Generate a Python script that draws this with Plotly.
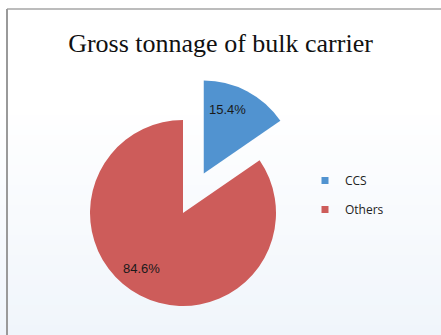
import math
import plotly.graph_objects as go

# Gross tonnage share of bulk carriers
labels = ["CCS", "Others"]
shares = [15.4, 84.6]
colors = ["#5193D0", "#CD5C5A"]
title_text = "Gross tonnage of bulk carrier"

W, H = 441, 335
TRANSPARENT = "rgba(0,0,0,0)"

# pie geometry in pixels
cx, cy, r = 183, 213, 93
pull = 0.48  # offset of the detached CCS wedge, as a fraction of radius


def domain_for(center_x, center_y, radius):
    return dict(
        x=[(center_x - radius) / W, (center_x + radius) / W],
        y=[1 - (center_y + radius) / H, 1 - (center_y - radius) / H],
    )


def polar(center_x, center_y, dist, angle_deg):
    """Point at `dist` px from a centre, angle clockwise from 12 o'clock."""
    a = math.radians(angle_deg)
    return center_x + dist * math.sin(a), center_y - dist * math.cos(a)


total = sum(shares)
# direction of the CCS wedge bisector (clockwise from 12 o'clock)
mid_deg = 360 * shares[0] / total / 2
bx, by = polar(cx, cy, pull * r, mid_deg)

common = dict(
    labels=labels,
    values=shares,
    sort=False,
    direction="clockwise",
    rotation=0,
    textinfo="none",
    showlegend=False,
    hoverinfo="label+percent",
)

fig = go.Figure()

# main body (Others), CCS wedge left empty
fig.add_trace(go.Pie(
    **common,
    domain=domain_for(cx, cy, r),
    marker=dict(colors=[TRANSPARENT, colors[1]], line=dict(width=0)),
))

# detached CCS wedge
fig.add_trace(go.Pie(
    **common,
    domain=domain_for(bx, by, r),
    marker=dict(colors=[colors[0], TRANSPARENT], line=dict(width=0)),
))

# percentage labels inside each wedge
label_spots = [(bx, by, 0.73 * r, 20.6), (cx, cy, 0.74 * r, 216.7)]
annotations = []
for v, (ox, oy, d, ang) in zip(shares, label_spots):
    px, py = polar(ox, oy, d, ang)
    annotations.append(dict(
        text=f"{100 * v / total:.1f}%",
        x=px / W, y=1 - py / H, xref="paper", yref="paper",
        xanchor="center", yanchor="middle", showarrow=False,
        font=dict(family="Liberation Sans", size=13, color="#1a1a1a"),
    ))

# legend entries with small square swatches
for i, (lab, col) in enumerate(zip(labels, colors)):
    fig.add_trace(go.Scatter(
        x=[None], y=[None], mode="markers", name=lab,
        legendgroup=f"g{i}",
        marker=dict(symbol="square", size=7, color=col),
    ))

# soft vertical background gradient
shapes = []
g0, g1, n = 105, H, 23
top_rgb, bot_rgb = (255, 255, 255), (240, 245, 251)
for k in range(n):
    t = (k + 0.5) / n
    c = tuple(round(a + (b - a) * t) for a, b in zip(top_rgb, bot_rgb))
    y0 = g0 + (g1 - g0) * k / n
    y1 = g0 + (g1 - g0) * (k + 1) / n + 0.5
    shapes.append(dict(
        type="rect", xref="paper", yref="paper", layer="below",
        x0=0, x1=1, y0=1 - y1 / H, y1=1 - y0 / H,
        fillcolor=f"rgb{c}", line=dict(width=0),
    ))

# frame lines along the top and left
shapes.append(dict(type="line", xref="paper", yref="paper",
                   x0=7 / W, x1=1.01, y0=1 - 9 / H, y1=1 - 9 / H,
                   line=dict(color="#7a7a7a", width=1.2)))
shapes.append(dict(type="line", xref="paper", yref="paper",
                   x0=7 / W, x1=7 / W, y0=1 - 9 / H, y1=-0.01,
                   line=dict(color="#9a9a9a", width=2)))

fig.update_layout(
    width=W, height=H,
    margin=dict(l=0, r=0, t=0, b=0),
    paper_bgcolor="white",
    plot_bgcolor=TRANSPARENT,
    xaxis=dict(visible=False),
    yaxis=dict(visible=False),
    title=dict(
        text=title_text,
        font=dict(family="Liberation Serif", size=26, color="#111111"),
        x=0.5, xanchor="center",
        y=1 - 43 / H, yanchor="middle", yref="container",
    ),
    legend=dict(
        x=305 / W, xanchor="left",
        y=1 - 166 / H, yanchor="top",
        traceorder="grouped", tracegroupgap=10,
        font=dict(family="Open Sans", size=12, color="#222222"),
        bgcolor=TRANSPARENT,
    ),
    annotations=annotations,
    shapes=shapes,
)

fig.write_html("out.html")
